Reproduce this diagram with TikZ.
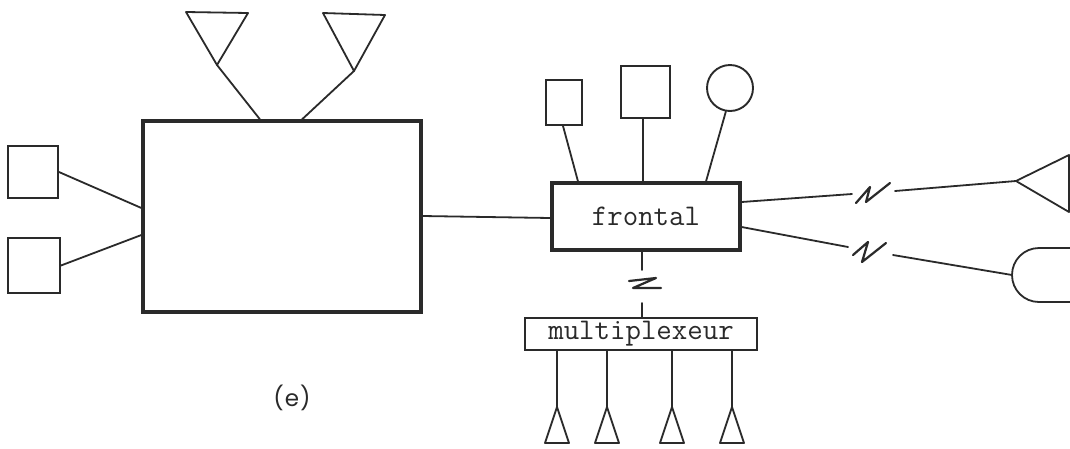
\documentclass[tikz,border=0pt]{standalone}
\usepackage{fontspec}
\newfontfamily\capfont{Poppins}
\definecolor{ink}{HTML}{2A2A2A}
\begin{document}
\begin{tikzpicture}[x=1pt,y=-1pt,
  ln/.style={draw=ink, line width=1.8pt, line cap=round, line join=round},
  brk/.style={draw=ink, line width=2.2pt, line cap=round, line join=round},
  boxn/.style={draw=ink, line width=1.9pt, rectangle, inner sep=0pt},
  heavybox/.style={boxn, line width=3.2pt},
  tt/.style={font=\fontsize{30}{30}\selectfont\ttfamily, text=ink}]
\fill[white] (0,0) rectangle (1070,448);
\useasboundingbox (0,0) rectangle (1070,448);

% main box and its terminals
\node[heavybox, minimum width=278pt, minimum height=191pt] (big) at (282,216.5) {};
\node[boxn, minimum width=50pt, minimum height=52pt] (lsqa) at (33,172) {};
\node[boxn, minimum width=52pt, minimum height=55pt] (lsqb) at (34,265.5) {};
\draw[ln] (lsqa.east) -- (big.west |- 0,208);
\draw[ln] (lsqb.east) -- (big.west |- 0,235);

% antennas on top
\draw[ln] (186,12) -- (248,13) -- (217,65) coordinate (anta) -- cycle;
\draw[ln] (323,13) -- (385,15) -- (354,71) coordinate (antb) -- cycle;
\draw[ln] (anta) -- (big.north -| 260,0);
\draw[ln] (antb) -- (big.north -| 302,0);

% frontal
\node[heavybox, minimum width=188pt, minimum height=67pt, tt] (frontal) at (646,216.5) {frontal};
\draw[ln] (big.east |- 0,216) -- (frontal.west |- 0,218);

% peripherals above frontal
\node[boxn, minimum width=36pt, minimum height=45pt] (tall) at (564,102.5) {};
\node[boxn, minimum width=49pt, minimum height=52pt] (sqr) at (645.5,92) {};
\node[draw=ink, line width=1.9pt, circle, inner sep=0pt, minimum size=46pt] (circ) at (730,88) {};
\draw[ln] (tall.south -| 563,0) -- (frontal.north -| 578,0);
\draw[ln] (sqr.south -| 643,0) -- (frontal.north -| 643,0);
\draw[ln] (circ.-100) -- (frontal.north -| 706,0);

% multiplexeur
\node[boxn, minimum width=232pt, minimum height=32pt, tt] (mux) at (641,334) {multiplexeur};
\coordinate (zt) at (642,270);
\coordinate (zb) at (642,303);
\draw[ln] (frontal.south -| zt) -- (zt);
\draw[brk] (629,281) -- (656,278) -- (633,288) -- (661,288);
\draw[ln] (zb) -- (zb |- mux.north);

% terminals below multiplexeur
\foreach \x/\n in {557/a,607/b,672/c,732/d}{
  \draw[ln] (\x,407) coordinate (tp\n) -- (\x-12,443) -- (\x+12,443) -- cycle;
  \draw[ln] (mux.south -| tp\n) -- (tp\n);
}

% right-hand remote terminals
\draw[ln] (1069,155) -- (1016,181) coordinate (rtri) -- (1069,212) -- cycle;
\draw[ln] (1070,248) -- (1039,248) .. controls (1024,248) and (1012,260) .. (1012,275) coordinate (dleft)
  .. controls (1012,290) and (1024,302) .. (1039,302) -- (1070,302);

\coordinate (ua) at (852,194);
\coordinate (ub) at (895,191);
\draw[ln] (frontal.east |- 0,202) -- (ua);
\draw[brk] (856,203) -- (870,187) -- (866,202) -- (890,183);
\draw[ln] (ub) -- (rtri);

\coordinate (la) at (848,247);
\coordinate (lb) at (893,255);
\draw[ln] (frontal.east |- 0,227) -- (la);
\draw[brk] (853,255) -- (868,242) -- (862,262) -- (886,243);
\draw[ln] (lb) -- (dleft);

% caption
\node[font=\capfont\fontsize{23}{23}\selectfont, text=ink] (cap) at (292,398) {(\kern1pt e\kern1pt)};
\end{tikzpicture}
\end{document}
